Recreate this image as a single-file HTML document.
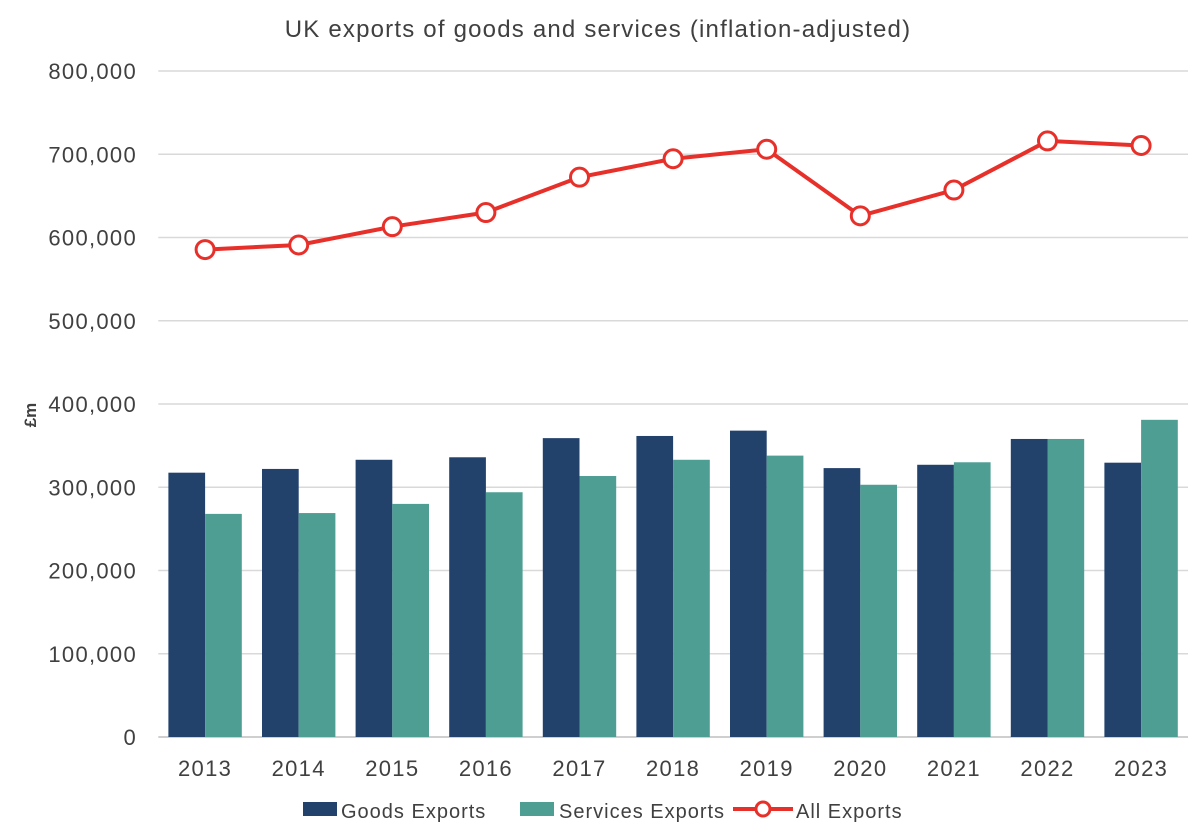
<!DOCTYPE html>
<html><head><meta charset="utf-8"><style>
body{margin:0;background:#fff;}
svg{display:block;font-family:"Liberation Sans",sans-serif;}
</style></head><body>
<svg id="chart" width="1200" height="834">
<text x="598" y="37" text-anchor="middle" font-size="24" letter-spacing="1.2" fill="#404040">UK exports of goods and services (inflation-adjusted)</text>
<text transform="translate(36,415) rotate(-90)" text-anchor="middle" font-size="17" font-weight="bold" fill="#404040">£m</text>
<g id="grid"></g><g id="bars"></g><g id="line"></g><g id="labels"></g>
<g>
<rect x="303" y="802" width="34" height="14" fill="#22416b"/>
<text x="341" y="818" font-size="20" letter-spacing="1" fill="#404040">Goods Exports</text>
<rect x="520" y="802" width="34" height="14" fill="#4e9e94"/>
<text x="559" y="818" font-size="20" letter-spacing="1" fill="#404040">Services Exports</text>
<line x1="733" y1="809" x2="793" y2="809" stroke="#e8302a" stroke-width="4"/>
<circle cx="763" cy="809" r="7" fill="#fff" stroke="#e8302a" stroke-width="3"/>
<text x="796" y="818" font-size="20" letter-spacing="1" fill="#404040">All Exports</text>
</g>
</svg>
<script>
const years=["2013","2014","2015","2016","2017","2018","2019","2020","2021","2022","2023"];
const goods=[317500,322000,333000,336000,359000,361600,368000,323000,327000,358000,329500];
const services=[268000,269000,280000,294000,313500,333000,338000,303000,330000,358000,381000];
const allExports=[585500,591000,613000,630000,672500,694600,706000,626000,657000,716000,710500];
const yTicks=[0,100000,200000,300000,400000,500000,600000,700000,800000];
const NS="http://www.w3.org/2000/svg";
const left=158.3,step=93.6,y0=737,yTop=71,yMax=800000;
const y=v=>y0-(v/yMax)*(y0-yTop);
const xc=i=>left+step*(i+0.5);
const bw=36.7;
function mk(tag,attrs,parent){const e=document.createElementNS(NS,tag);for(const k in attrs)e.setAttribute(k,attrs[k]);document.getElementById(parent).appendChild(e);return e;}
yTicks.forEach(t=>{
 if(t>0){const l=mk('line',{x1:left,x2:1188,y1:y(t),y2:y(t),stroke:'#d9d9d9','stroke-width':1.5},'grid');
 
 }
 const tx=mk('text',{x:137,y:y(t)+8,'text-anchor':'end','font-size':22,'letter-spacing':1.3,fill:'#404040'},'labels');
 tx.textContent=t.toLocaleString('en-US');
 
 
});
const ax=mk('line',{x1:left,x2:1188,y1:y0,y2:y0,stroke:'#bfbfbf','stroke-width':1.5},'grid');


years.forEach((yr,i)=>{
 const g=mk('rect',{x:xc(i)-bw,y:y(goods[i]),width:bw,height:y0-y(goods[i]),fill:'#22416b'},'bars');
 
 
 const s=mk('rect',{x:xc(i),y:y(services[i]),width:bw,height:y0-y(services[i]),fill:'#4e9e94'},'bars');
 
 
 const t=mk('text',{x:xc(i),y:776,'text-anchor':'middle','font-size':22,'letter-spacing':1.3,fill:'#404040'},'labels');
 t.textContent=yr;
 
 
});
const pl=mk('polyline',{points:allExports.map((v,i)=>xc(i)+','+y(v)).join(' '),fill:'none',stroke:'#e8302a','stroke-width':4},'line');


allExports.forEach((v,i)=>{
 const c=mk('circle',{cx:xc(i),cy:y(v),r:9,fill:'#fff',stroke:'#e8302a','stroke-width':3},'line');
 
 
});
</script>
</body></html>
